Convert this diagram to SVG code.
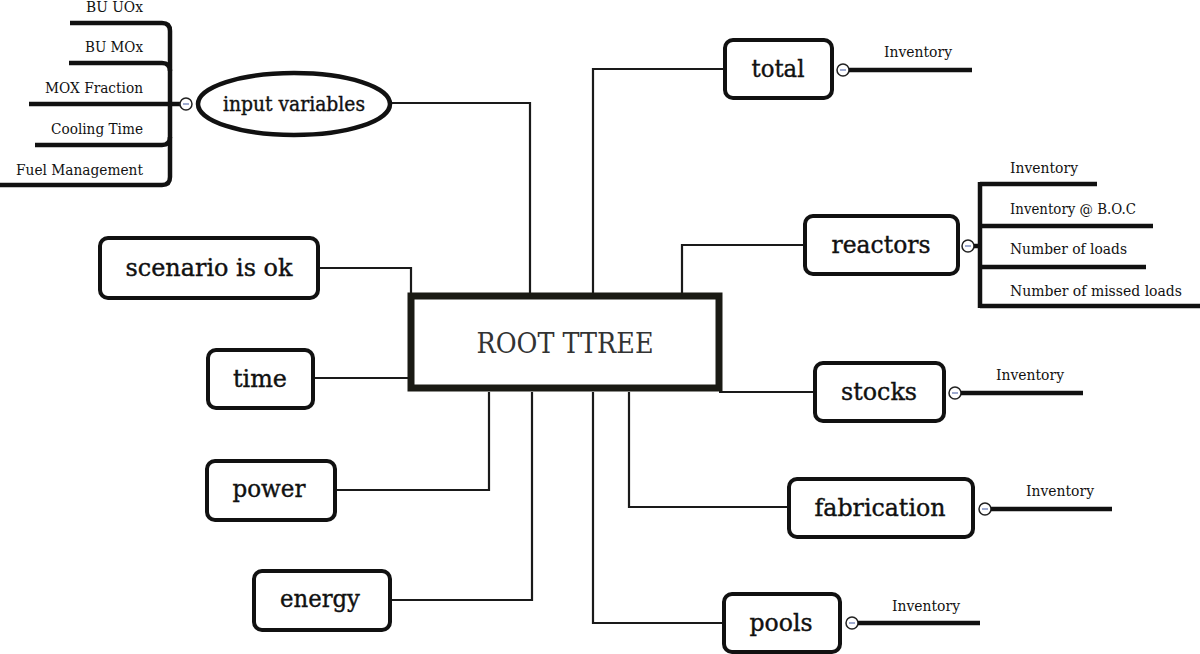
<svg xmlns="http://www.w3.org/2000/svg" width="1200" height="654" viewBox="0 0 1200 654">
<defs>
<style>
.node{fill:#fff;stroke:#111;stroke-width:4}
.nt{font-family:"DejaVu Serif","Liberation Serif",serif;font-size:24px;fill:#111;text-anchor:middle;stroke:#111;stroke-width:0.4}
.lb{font-family:"DejaVu Serif","Liberation Serif",serif;font-size:14px;fill:#111}
.lbr{font-family:"DejaVu Serif","Liberation Serif",serif;font-size:14px;fill:#111;text-anchor:end}
.con{fill:none;stroke:#1a1a1a;stroke-width:2.2}
.br{fill:none;stroke:#111;stroke-width:4.5}
.tog{fill:#fff;stroke:#222;stroke-width:1.5}
.minus{stroke:#7f8fc0;stroke-width:1.5}
</style>
</defs>
<rect width="1200" height="654" fill="#fff"/>

<g id="connectors">
<path class="con" d="M318 268 H411 V296"/>
<path class="con" d="M390 103 H530 V296"/>
<path class="con" d="M313 378 H408"/>
<path class="con" d="M335 490 H489 V392"/>
<path class="con" d="M390 600 H532 V392"/>
<path class="con" d="M725 69 H593 V296"/>
<path class="con" d="M805 245 H682 V296"/>
<path class="con" d="M815 392 H719"/>
<path class="con" d="M789 507 H629 V392"/>
<path class="con" d="M724 623 H593 V392"/>
</g>

<g id="root">
<rect x="411" y="296" width="308" height="92" fill="#fff" stroke="#1a1a14" stroke-width="7"/>
<text x="565" y="353" font-family="'DejaVu Serif','Liberation Serif',serif" font-size="28" fill="#333" text-anchor="middle" textLength="177" lengthAdjust="spacingAndGlyphs">ROOT TTREE</text>
</g>

<g id="input-variables">
<ellipse cx="294" cy="104" rx="96" ry="31" fill="#fff" stroke="#111" stroke-width="4.5"/>
<text x="294" y="111" class="nt" style="font-size:20px" textLength="142" lengthAdjust="spacingAndGlyphs">input variables</text>
<path class="br" d="M170 31 V177"/>
<path class="br" d="M70 23 H162 Q170 23 170 31"/>
<path class="br" d="M69 63 H162 Q170 63 170 71"/>
<path class="br" d="M29 104 H181"/>
<path class="br" d="M35 145 H162 Q170 145 170 137"/>
<path class="br" d="M0 185 H162 Q170 185 170 177"/>
<circle class="tog" cx="186" cy="104" r="6"/>
<line class="minus" x1="183" y1="104" x2="189" y2="104"/>
<text class="lbr" x="143" y="12" textLength="57" lengthAdjust="spacingAndGlyphs">BU UOx</text>
<text class="lbr" x="143" y="52" textLength="58" lengthAdjust="spacingAndGlyphs">BU MOx</text>
<text class="lbr" x="143" y="93" textLength="98" lengthAdjust="spacingAndGlyphs">MOX Fraction</text>
<text class="lbr" x="143" y="134" textLength="92" lengthAdjust="spacingAndGlyphs">Cooling Time</text>
<text class="lbr" x="143" y="175" textLength="127" lengthAdjust="spacingAndGlyphs">Fuel Management</text>
</g>

<g id="scenario">
<rect class="node" x="100" y="238" width="218" height="60" rx="8"/>
<text class="nt" x="209" y="276" textLength="167" lengthAdjust="spacingAndGlyphs">scenario is ok</text>
</g>

<g id="time">
<rect class="node" x="208" y="350" width="105" height="58" rx="8"/>
<text class="nt" x="260" y="387" textLength="54" lengthAdjust="spacingAndGlyphs">time</text>
</g>

<g id="power">
<rect class="node" x="207" y="461" width="128" height="59" rx="8"/>
<text class="nt" x="269" y="497" textLength="73" lengthAdjust="spacingAndGlyphs">power</text>
</g>

<g id="energy">
<rect class="node" x="254" y="571" width="136" height="59" rx="8"/>
<text class="nt" x="320" y="607" textLength="80" lengthAdjust="spacingAndGlyphs">energy</text>
</g>

<g id="total">
<rect class="node" x="725" y="40" width="107" height="58" rx="8"/>
<text class="nt" x="778" y="77" textLength="53" lengthAdjust="spacingAndGlyphs">total</text>
<circle class="tog" cx="843" cy="70" r="6"/>
<line class="minus" x1="840" y1="70" x2="846" y2="70"/>
<path class="br" d="M849 70 H972"/>
<text class="lb" x="884" y="57" textLength="68" lengthAdjust="spacingAndGlyphs">Inventory</text>
</g>

<g id="reactors">
<rect class="node" x="805" y="216" width="153" height="58" rx="8"/>
<text class="nt" x="881" y="253" textLength="99" lengthAdjust="spacingAndGlyphs">reactors</text>
<circle class="tog" cx="968" cy="246" r="6"/>
<line class="minus" x1="965" y1="246" x2="971" y2="246"/>
<path class="br" d="M974 246 H980 M980 182 V308"/>
<path class="br" d="M980 184 H1097"/>
<path class="br" d="M980 226 H1153"/>
<path class="br" d="M980 267 H1146"/>
<path class="br" d="M980 306 H1200"/>
<text class="lb" x="1010" y="173" textLength="68" lengthAdjust="spacingAndGlyphs">Inventory</text>
<text class="lb" x="1010" y="214" textLength="126" lengthAdjust="spacingAndGlyphs">Inventory @ B.O.C</text>
<text class="lb" x="1010" y="254" textLength="117" lengthAdjust="spacingAndGlyphs">Number of loads</text>
<text class="lb" x="1010" y="296" textLength="172" lengthAdjust="spacingAndGlyphs">Number of missed loads</text>
</g>

<g id="stocks">
<rect class="node" x="815" y="363" width="129" height="58" rx="8"/>
<text class="nt" x="879" y="400" textLength="76" lengthAdjust="spacingAndGlyphs">stocks</text>
<circle class="tog" cx="955" cy="393" r="6"/>
<line class="minus" x1="952" y1="393" x2="958" y2="393"/>
<path class="br" d="M961 393 H1083"/>
<text class="lb" x="996" y="380" textLength="68" lengthAdjust="spacingAndGlyphs">Inventory</text>
</g>

<g id="fabrication">
<rect class="node" x="789" y="479" width="184" height="58" rx="8"/>
<text class="nt" x="880" y="516" textLength="131" lengthAdjust="spacingAndGlyphs">fabrication</text>
<circle class="tog" cx="985" cy="509" r="6"/>
<line class="minus" x1="982" y1="509" x2="988" y2="509"/>
<path class="br" d="M991 509 H1112"/>
<text class="lb" x="1026" y="496" textLength="68" lengthAdjust="spacingAndGlyphs">Inventory</text>
</g>

<g id="pools">
<rect class="node" x="724" y="594" width="116" height="58" rx="8"/>
<text class="nt" x="781" y="631" textLength="63" lengthAdjust="spacingAndGlyphs">pools</text>
<circle class="tog" cx="852" cy="623" r="6"/>
<line class="minus" x1="849" y1="623" x2="855" y2="623"/>
<path class="br" d="M858 623 H980"/>
<text class="lb" x="892" y="611" textLength="68" lengthAdjust="spacingAndGlyphs">Inventory</text>
</g>
</svg>
